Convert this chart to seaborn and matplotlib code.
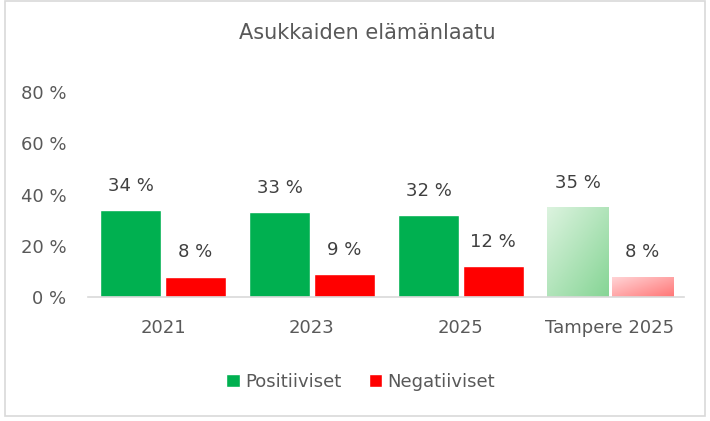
import matplotlib
matplotlib.use("Agg")

import matplotlib.pyplot as plt
import numpy as np
import pandas as pd
import seaborn as sns
from matplotlib.colors import LinearSegmentedColormap
from matplotlib.patches import Patch, Rectangle

# Data
groups = ["2021", "2023", "2025", "Tampere 2025"]
positive = [34, 33, 32, 35]
negative = [8, 9, 12, 8]
series = ["Positiiviset", "Negatiiviset"]
y_ticks = [0, 20, 40, 60, 80]

GREEN = "#00B050"
RED = "#FF0000"
TEXT = "#595959"

sns.set_theme(style="white")
plt.rcParams["font.family"] = ["DejaVu Sans"]

df = pd.DataFrame({
    "group": groups * 2,
    "value": positive + negative,
    "series": [series[0]] * len(groups) + [series[1]] * len(groups),
})

fig = plt.figure(figsize=(7.1, 4.21), dpi=100)
ax = fig.add_axes([0.1246, 0.2945, 0.8394, 0.487])

sns.barplot(
    data=df, x="group", y="value", hue="series",
    palette=[GREEN, RED], width=0.87, gap=0.05,
    legend=False, ax=ax, saturation=1, errorbar=None,
)

# Tampere bars: lighter diagonal gradient (benchmark style)
n = len(groups)
grad_maps = {
    n - 1: LinearSegmentedColormap.from_list("g", ["#dcf3df", "#86d595"]),
    2 * n - 1: LinearSegmentedColormap.from_list("r", ["#ffd6d8", "#ff7676"]),
}
gx, gy = np.meshgrid(np.linspace(0, 1, 64), np.linspace(0, 1, 64))
grad = (gx + gy) / 2
for idx, cmap in grad_maps.items():
    p = ax.patches[idx]
    p.set_facecolor("none")
    x0, w, h = p.get_x(), p.get_width(), p.get_height()
    im = ax.imshow(grad, cmap=cmap, extent=(x0, x0 + w, 0, h),
                   aspect="auto", zorder=p.get_zorder() + 0.1)
    im.set_clip_path(p)

# Data labels
for i, p in enumerate(ax.patches[: 2 * n]):
    val = df["value"].iloc[i]
    ax.text(p.get_x() + p.get_width() / 2, p.get_height() + 6,
            f"{val} %", ha="center", va="bottom", fontsize=13, color="#404040")

ax.set_xlim(-0.5, n - 0.5)
ax.set_ylim(0, 80)
ax.set_yticks(y_ticks)
ax.set_yticklabels([f"{t} %" for t in y_ticks], fontsize=13, color=TEXT)
ax.tick_params(axis="x", labelsize=13, labelcolor=TEXT, pad=16, length=0)
ax.tick_params(axis="y", pad=16, length=0)
ax.set_xlabel("")
ax.set_ylabel("")
for side in ["top", "right", "left"]:
    ax.spines[side].set_visible(False)
ax.spines["bottom"].set_color("#d9d9d9")
ax.spines["bottom"].set_linewidth(1.2)

fig.text(0.518, 0.922, "Asukkaiden elämänlaatu", ha="center", va="center",
         fontsize=15, color=TEXT)

handles = [Patch(facecolor=GREEN, label=series[0]),
           Patch(facecolor=RED, label=series[1])]
fig.legend(handles=handles, loc="center", bbox_to_anchor=(0.508, 0.093),
           ncol=2, frameon=False, fontsize=13, labelcolor=TEXT,
           handlelength=0.75, handleheight=0.75, handletextpad=0.3,
           columnspacing=1.5)

fig.add_artist(Rectangle((0.007, 0.012), 0.986, 0.985, transform=fig.transFigure,
                         fill=False, edgecolor="#d9d9d9", linewidth=1.2))

fig.savefig("out.png", dpi=100)
